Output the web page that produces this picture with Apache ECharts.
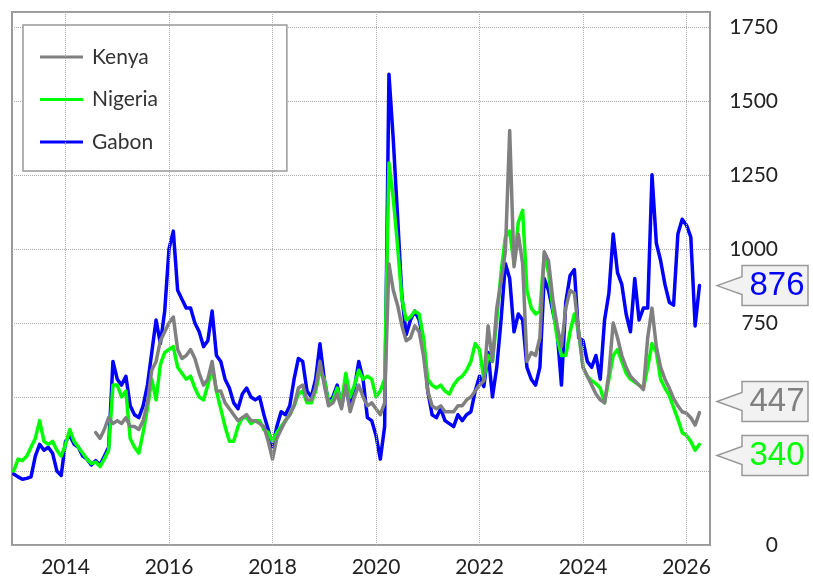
<!DOCTYPE html>
<html lang="en">
<head>
    <meta charset="UTF-8">
    <title>Kenya, Nigeria, Gabon</title>
    <script src="https://cdn.jsdelivr.net/npm/echarts@6/dist/echarts.min.js"></script>
    <style>
        html, body { margin: 0; padding: 0; background: #fff; }
        #chart { width: 813px; height: 580px; }
    </style>
</head>
<body>
    <div id="chart"></div>

    <script>
        // one sample per month, first one is Jan 2013
        const startYear = 2013;
        const yearTicks = [2014, 2016, 2018, 2020, 2022, 2024, 2026];
        const valueTicks = [0, 250, 500, 750, 1000, 1250, 1500, 1750];

        const gabon = [
            240, 230, 222, 225, 230, 300, 340, 320, 330, 310, 250, 235,     // 2013
            350, 370, 340, 330, 300, 290, 270, 285, 270, 300, 330, 620,     // 2014
            560, 540, 570, 470, 440, 430, 470, 540, 650, 760, 680, 790,     // 2015
            1000, 1060, 860, 830, 800, 800, 750, 720, 670, 690, 790, 640,   // 2016
            620, 560, 530, 480, 460, 510, 530, 500, 490, 500, 440, 390,     // 2017
            330, 400, 450, 440, 470, 560, 630, 620, 520, 500, 560, 680,     // 2018
            560, 480, 500, 540, 470, 540, 460, 530, 620, 560, 430, 420,     // 2019
            370, 290, 400, 1590, 1370, 1110, 840, 710, 760, 790, 760, 690,  // 2020
            520, 440, 430, 460, 420, 410, 400, 440, 420, 440, 450, 520,     // 2021
            570, 535, 650, 500, 600, 760, 950, 900, 720, 780, 760, 600,     // 2022
            560, 540, 600, 900, 860, 790, 720, 540, 820, 910, 930, 700,     // 2023
            690, 620, 600, 640, 560, 760, 850, 1050, 920, 880, 780, 720,    // 2024
            900, 760, 800, 800, 1250, 1020, 960, 880, 820, 810, 1050, 1100, // 2025
            1080, 1040, 740, 876                                            // 2026
        ];
        const nigeria = [
            250, 290, 285, 300, 330, 360, 420, 350, 340, 350, 320, 300,
            340, 390, 350, 330, 310, 290, 275, 280, 265, 290, 320, 540,
            540, 500, 520, 360, 330, 310, 380, 460, 560, 490, 610, 650,
            660, 670, 600, 580, 560, 570, 530, 500, 490, 540, 600, 520,
            460, 400, 350, 350, 400, 430, 430, 410, 420, 420, 390, 380,
            350, 380, 400, 420, 440, 470, 510, 520, 480, 480, 520, 590,
            560, 480, 490, 530, 480, 580, 500, 540, 590, 560, 570, 560,
            500, 520, 560, 1290, 1170, 1010, 830, 760, 770, 790, 780, 700,
            560, 540, 530, 540, 520, 510, 540, 560, 570, 590, 620, 680,
            660, 560, 640, 620, 760, 920, 1040, 1060, 950, 1090, 1130, 860,
            800, 780, 790, 980, 920, 800, 700, 640, 640, 720, 780, 720,
            600, 570, 555, 545, 530, 480, 560, 640, 660, 620, 580, 560,
            550, 540, 530, 600, 680, 650, 560, 530, 505, 465, 425, 380,
            370, 350, 320, 340
        ];
        const kenya = [
            null, null, null, null, null, null, null, null, null, null, null, null,
            null, null, null, null, null, null, null, 380, 360, 390, 430, 410,
            420, 410, 430, 400, 400, 390, 420, 480, 590, 620, 690, 720,
            750, 770, 660, 630, 640, 660, 630, 580, 540, 560, 620, 520,
            520, 480, 460, 440, 420, 430, 440, 420, 420, 410, 400, 350,
            290, 360, 390, 420, 440, 470, 530, 540, 490, 490, 530, 620,
            540, 470, 480, 510, 460, 540, 450, 500, 540, 500, 470, 480,
            460, 440, 480, 950, 860, 810, 740, 690, 700, 740, 720, 640,
            520, 470, 460, 470, 450, 450, 450, 470, 470, 490, 500, 520,
            540, 555, 740, 620, 800, 890, 990, 1400, 940, 1050, 950, 620,
            650, 640, 700, 990, 960, 830, 740, 670, 800, 860, 850, 720,
            600, 570, 540, 510, 490, 480, 580, 750, 700, 640, 600, 570,
            555, 540, 525, 700, 800, 670, 600, 560, 530, 495, 470, 450,
            445, 430, 405, 447
        ];

        const chart = echarts.init(document.getElementById('chart'));
        const font = 'Lato, "Open Sans", sans-serif';

        function toPoints(arr) {
            return arr.map((v, i) => [startYear + i / 12, v]);
        }

        function lineSeries(name, arr, color) {
            return {
                name: name,
                type: 'line',
                data: toPoints(arr),
                showSymbol: false,
                connectNulls: false,
                lineStyle: { color: color, width: 3.5, join: 'round', cap: 'round' },
                itemStyle: { color: color },
                z: 3
            };
        }

        const option = {
            animation: false,
            backgroundColor: '#fff',
            grid: {
                left: 12, right: 103, top: 12, bottom: 35,
                show: true,
                borderColor: '#9a9a9a',
                borderWidth: 2,
                backgroundColor: '#fff'
            },
            legend: {
                data: ['Kenya', 'Nigeria', 'Gabon'],
                orient: 'vertical',
                left: 23,
                top: 25,
                icon: 'rect',
                itemWidth: 43,
                itemHeight: 3,
                itemGap: 18.5,
                padding: [20, 129, 17, 17],
                backgroundColor: '#fff',
                borderColor: '#999',
                borderWidth: 1.5,
                textStyle: {
                    fontFamily: font, fontSize: 21, color: '#333',
                    lineHeight: 24, padding: [0, 0, 0, 4]
                }
            },
            xAxis: {
                type: 'value',
                min: 2012.966,
                max: 2026.454,
                axisLine: { show: false },
                axisTick: { show: false },
                splitLine: { show: false },
                axisLabel: {
                    customValues: yearTicks,
                    formatter: v => String(v),
                    fontFamily: font, fontSize: 21, color: '#222',
                    margin: 12
                }
            },
            yAxis: {
                type: 'value',
                position: 'right',
                min: 0,
                max: 1800,
                interval: 250,
                axisLine: { show: false },
                axisTick: { show: false },
                splitLine: { lineStyle: { color: '#aaa', type: 'dotted', width: 1 } },
                axisLabel: {
                    customValues: valueTicks,
                    formatter: v => String(v),
                    align: 'right',
                    margin: 68,
                    fontFamily: font, fontSize: 21, color: '#222'
                }
            },
            series: [
                {
                    // vertical dotted grid at the labelled years
                    type: 'line',
                    data: [],
                    z: 1,
                    markLine: {
                        silent: true,
                        symbol: 'none',
                        label: { show: false },
                        lineStyle: { color: '#aaa', type: 'dotted', width: 1 },
                        data: yearTicks.map(y => ({ xAxis: y }))
                    }
                },
                lineSeries('Gabon', gabon, '#0000ff'),
                lineSeries('Nigeria', nigeria, '#00ff00'),
                lineSeries('Kenya', kenya, '#808080')
            ]
        };
        chart.setOption(option);

        // last-value tags on the right of the plot
        const tags = [
            { value: gabon[gabon.length - 1], color: '#0000ff' },
            { value: kenya[kenya.length - 1], color: '#808080' },
            { value: nigeria[nigeria.length - 1], color: '#00ff00' }
        ];
        tags.forEach(t => { t.y = chart.convertToPixel({ yAxisIndex: 0 }, t.value); });
        tags.sort((a, b) => a.y - b.y);
        const gap = 54;
        for (let i = 1; i < tags.length; i++) {
            const a = tags[i - 1], b = tags[i];
            if (b.y - a.y < gap) {
                const mid = (a.y + b.y) / 2;
                a.y = mid - gap / 2;
                b.y = mid + gap / 2;
            }
        }

        const tipX = 717, boxL = 742, boxR = 808, half = 20;

        // axis labels sitting under a tag are hidden, as in the original
        const shownTicks = valueTicks.filter(v => {
            const py = chart.convertToPixel({ yAxisIndex: 0 }, v);
            return !tags.some(t => Math.abs(py - t.y) < half + 10);
        });

        const graphics = [];
        tags.forEach(t => {
            graphics.push({
                type: 'polygon',
                z: 100,
                zlevel: 1,
                shape: {
                    points: [
                        [tipX, t.y], [boxL, t.y - 9], [boxL, t.y - half],
                        [boxR, t.y - half], [boxR, t.y + half],
                        [boxL, t.y + half], [boxL, t.y + 9]
                    ]
                },
                style: { fill: '#f2f2f2', stroke: '#999', lineWidth: 1.5 }
            });
            graphics.push({
                type: 'text',
                z: 101,
                zlevel: 1,
                style: {
                    text: String(t.value),
                    x: (boxL + boxR) / 2 + 2,
                    y: t.y,
                    align: 'center',
                    verticalAlign: 'middle',
                    fontSize: 33,
                    fontFamily: '"Liberation Sans", Arial, sans-serif',
                    fill: t.color
                }
            });
        });
        chart.setOption({
            yAxis: { axisLabel: { customValues: shownTicks } },
            graphic: graphics
        });
    </script>
</body>
</html>
